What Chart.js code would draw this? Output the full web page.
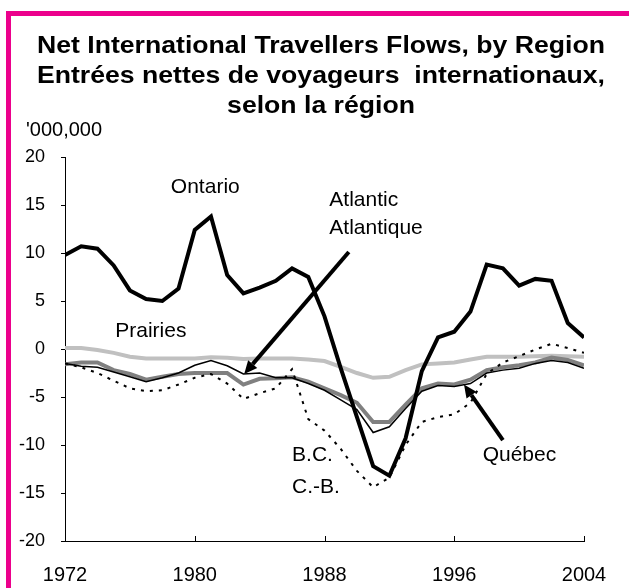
<!DOCTYPE html>
<html>
<head>
<meta charset="utf-8">
<script src="https://cdn.jsdelivr.net/npm/chart.js@4.4.1/dist/chart.umd.min.js"></script>
<style>
  html, body { margin: 0; padding: 0; background: #fff; }
  #wrap { position: relative; width: 629px; height: 588px; }
</style>
</head>
<body>
<div id="wrap"><canvas id="c" width="629" height="588"></canvas></div>
<script>
// ---- Data ----
const years = [1972,1973,1974,1975,1976,1977,1978,1979,1980,1981,1982,1983,1984,1985,1986,1987,1988,
               1989,1990,1991,1992,1993,1994,1995,1996,1997,1998,1999,2000,2001,2002,2003,2004];
const ontario  = [9.8,10.7,10.45,8.7,6.1,5.2,5.0,6.3,12.4,13.8,7.7,5.8,6.4,7.1,8.4,7.5,3.4,
                  -2.0,-7.1,-12.2,-13.2,-9.3,-2.3,1.2,1.8,3.9,8.8,8.4,6.6,7.3,7.1,2.7,1.2];
const atlantic = [-1.5,-1.8,-1.9,-2.4,-2.9,-3.4,-3.0,-2.5,-1.7,-1.2,-1.75,-2.6,-2.5,-3.0,-3.0,-3.6,-4.3,
                  -5.3,-6.3,-8.7,-8.1,-6.2,-4.4,-3.8,-3.9,-3.6,-2.5,-2.2,-2.0,-1.5,-1.2,-1.4,-2.0];
const quebec   = [-1.6,-1.4,-1.4,-2.2,-2.6,-3.2,-2.9,-2.6,-2.5,-2.5,-2.5,-3.7,-3.1,-3.05,-2.95,-3.4,-4.1,
                  -4.8,-5.6,-7.6,-7.6,-5.8,-4.1,-3.6,-3.7,-3.2,-2.2,-1.9,-1.7,-1.4,-0.9,-1.15,-1.7];
const bc       = [-1.5,-1.9,-2.5,-3.3,-4.1,-4.4,-4.3,-3.7,-3.0,-2.6,-3.6,-5.2,-4.6,-4.1,-2.1,-7.3,-8.5,
                  -10.4,-12.7,-14.4,-13.4,-10.0,-7.6,-7.1,-6.8,-5.6,-2.6,-1.4,-0.75,-0.05,0.55,0.1,-0.4];
const prairies = [0.1,0.1,-0.1,-0.4,-0.8,-1.0,-1.0,-1.0,-1.0,-0.85,-0.9,-1.05,-1.0,-1.0,-1.0,-1.1,-1.25,
                  -1.85,-2.5,-3.0,-2.9,-2.2,-1.6,-1.5,-1.4,-1.1,-0.8,-0.8,-0.8,-0.75,-0.7,-0.75,-0.8];
const xTicks = [1972,1980,1988,1996,2004];
const yTicks = [-20,-15,-10,-5,0,5,10,15,20];

const titleLines = ["Net International Travellers Flows, by Region",
                    "Entrées nettes de voyageurs  internationaux,",
                    "selon la région"];
const unitLabel = "'000,000";

// labels / arrows anchored in data space: [year, value]
const seriesLabels = [
  { text: "Ontario",    at: [1980.65, 16.9] },
  { text: "Atlantic",   at: [1988.3, 15.5], align: "left" },
  { text: "Atlantique", at: [1988.3, 12.6], align: "left" },
  { text: "Prairies",   at: [1975.1, 1.9],  align: "left" },
  { text: "B.C.",       at: [1986.0, -11.1], align: "left" },
  { text: "C.-B.",      at: [1986.0, -14.4], align: "left" },
  { text: "Québec",     at: [1997.75, -11.1], align: "left" }
];
const arrows = [
  { from: [1989.5, 10.1], to: [1983.05, -2.6] },
  { from: [1999.0, -9.5], to: [1996.6, -3.7] }
];

const FONT = "'Liberation Sans', Arial, sans-serif";
const pts = arr => years.map((y, i) => ({ x: y, y: arr[i] }));

const decor = {
  id: 'decor',
  beforeDraw(chart) {
    const ctx = chart.ctx;
    ctx.save();
    ctx.fillStyle = '#fff';
    ctx.fillRect(0, 0, chart.width, chart.height);
    // magenta frame (top + left)
    ctx.fillStyle = '#EC008C';
    ctx.fillRect(6, 11, chart.width - 6, 5);
    ctx.fillRect(6, 11, 5, chart.height - 11);
    ctx.restore();
  },
  afterDraw(chart) {
    const ctx = chart.ctx;
    const xs = chart.scales.x, ys = chart.scales.y;
    ctx.save();
    // title (bold, stretched to the reference width)
    ctx.fillStyle = '#000';
    ctx.textAlign = 'center';
    ctx.textBaseline = 'middle';
    ctx.font = "bold 24px " + FONT;
    const sx = 568 / ctx.measureText(titleLines[0]).width;
    const tY = [46, 76, 106];
    titleLines.forEach((t, i) => {
      ctx.save();
      ctx.translate(321, tY[i]);
      ctx.scale(sx, 1);
      ctx.fillText(t, 0, 0);
      ctx.restore();
    });
    // unit label
    ctx.font = "20px " + FONT;
    ctx.textAlign = 'left';
    ctx.fillText(unitLabel, 26, 130);
    // inward x ticks
    ctx.strokeStyle = '#000';
    ctx.lineWidth = 1;
    const yb = chart.chartArea.bottom;
    xTicks.forEach(v => {
      const px = Math.round(xs.getPixelForValue(v)) + 0.5;
      ctx.beginPath(); ctx.moveTo(px, yb); ctx.lineTo(px, yb - 5); ctx.stroke();
    });
    // series labels
    ctx.font = "21px " + FONT;
    seriesLabels.forEach(l => {
      ctx.textAlign = l.align || 'center';
      ctx.fillText(l.text, xs.getPixelForValue(l.at[0]), ys.getPixelForValue(l.at[1]));
    });
    // arrows
    arrows.forEach(a => {
      const x1 = xs.getPixelForValue(a.from[0]), y1 = ys.getPixelForValue(a.from[1]);
      const x2 = xs.getPixelForValue(a.to[0]),   y2 = ys.getPixelForValue(a.to[1]);
      const ang = Math.atan2(y2 - y1, x2 - x1);
      const hl = 13, hw = 6;
      const bx = x2 - hl * Math.cos(ang), by = y2 - hl * Math.sin(ang);
      ctx.strokeStyle = '#000';
      ctx.lineWidth = 4;
      ctx.lineCap = 'butt';
      ctx.beginPath(); ctx.moveTo(x1, y1); ctx.lineTo(bx, by); ctx.stroke();
      ctx.fillStyle = '#000';
      ctx.beginPath();
      ctx.moveTo(x2, y2);
      ctx.lineTo(bx + hw * Math.sin(ang), by - hw * Math.cos(ang));
      ctx.lineTo(bx - hw * Math.sin(ang), by + hw * Math.cos(ang));
      ctx.closePath(); ctx.fill();
    });
    ctx.restore();
  }
};

new Chart(document.getElementById('c'), {
  type: 'line',
  data: {
    datasets: [
      { label: 'Ontario',  data: pts(ontario),  borderColor: '#000', borderWidth: 4 },
      { label: 'B.C. / C.-B.', data: pts(bc), borderColor: '#000', borderWidth: 2, borderDash: [3, 6] },
      { label: 'Atlantic / Atlantique', data: pts(atlantic), borderColor: '#000', borderWidth: 1.5 },
      { label: 'Québec',   data: pts(quebec),   borderColor: '#808080', borderWidth: 4 },
      { label: 'Prairies', data: pts(prairies), borderColor: '#C0C0C0', borderWidth: 4 }
    ]
  },
  options: {
    responsive: false,
    animation: false,
    events: [],
    layout: { padding: { left: 0, right: 45, top: 157, bottom: 0 } },
    elements: { point: { radius: 0 }, line: { tension: 0, fill: false, borderJoinStyle: 'miter' } },
    plugins: { legend: { display: false }, tooltip: { enabled: false }, title: { display: false } },
    scales: {
      x: {
        type: 'linear', min: 1972, max: 2004,
        afterFit: s => { s.height = 47; },
        afterBuildTicks: s => { s.ticks = xTicks.map(v => ({ value: v })); },
        grid: { display: true, drawOnChartArea: false, drawTicks: false, color: '#000' },
        border: { display: true, color: '#000', width: 1 },
        ticks: { color: '#000', font: { family: FONT, size: 20 }, padding: 22, maxRotation: 0, autoSkip: false,
                 callback: v => String(v) }
      },
      y: {
        min: -20, max: 20,
        afterFit: s => { s.width = 65; },
        afterBuildTicks: s => { s.ticks = yTicks.map(v => ({ value: v })); },
        grid: { display: true, drawOnChartArea: false, drawTicks: true, tickLength: 4, color: '#000' },
        border: { display: true, color: '#000', width: 1 },
        ticks: { color: '#000', font: { family: FONT, size: 18 }, padding: 16 }
      }
    }
  },
  plugins: [decor]
});
</script>
</body>
</html>
